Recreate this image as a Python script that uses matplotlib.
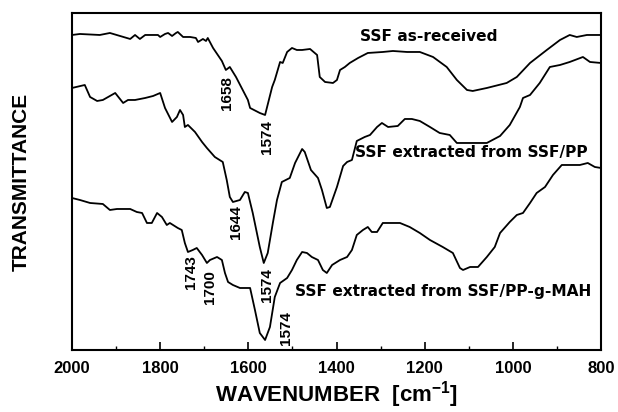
import numpy as np
import matplotlib
matplotlib.use("Agg")
import matplotlib.pyplot as plt
from matplotlib.ticker import MultipleLocator

# FTIR spectra, transmittance in arbitrary units (offset curves)
wn_received = [2000, 1982, 1937, 1914, 1891, 1868, 1857, 1846, 1834, 1805, 1800, 1789, 1782, 1773,
               1764, 1760, 1748, 1732, 1719, 1714, 1703, 1696, 1692, 1680, 1660, 1651, 1642, 1628,
               1601, 1596, 1574, 1562, 1546, 1540, 1528, 1522, 1512, 1501, 1490, 1478, 1460, 1444,
               1438, 1426, 1408, 1399, 1392, 1381, 1370, 1351, 1329, 1295, 1272, 1240, 1211, 1181,
               1150, 1127, 1104, 1091, 1059, 1014, 991, 961, 923, 893, 871, 855, 832, 800]
t_received = [315, 316, 315, 317, 314, 311, 315, 311, 315, 315, 313, 316, 317, 314,
              317, 318, 313, 313, 312, 308, 311, 309, 312, 302, 289, 280, 283, 273,
              250, 242, 237, 235, 263, 270, 288, 287, 298, 302, 300, 300, 301, 295,
              273, 268, 267, 270, 280, 283, 287, 292, 297, 298, 299, 298, 298, 293,
              283, 270, 260, 259, 262, 267, 273, 287, 300, 310, 315, 313, 315, 315]

wn_pp = [2000, 1971, 1959, 1943, 1930, 1902, 1884, 1873, 1857, 1834, 1816, 1800, 1789, 1773,
         1762, 1755, 1748, 1744, 1737, 1721, 1705, 1694, 1676, 1658, 1649, 1642, 1635, 1619,
         1608, 1601, 1590, 1574, 1565, 1556, 1544, 1535, 1524, 1506, 1494, 1478, 1472, 1458,
         1442, 1433, 1422, 1415, 1399, 1385, 1376, 1365, 1354, 1336, 1324, 1308, 1297, 1283,
         1261, 1245, 1229, 1211, 1188, 1166, 1143, 1127, 1098, 1059, 1029, 1007, 984, 977,
         961, 939, 916, 893, 871, 841, 825, 800]
t_pp = [262, 265, 253, 249, 250, 257, 247, 250, 250, 252, 254, 257, 242, 228,
        233, 240, 235, 223, 225, 218, 208, 202, 193, 188, 170, 153, 148, 150,
        158, 157, 137, 103, 87, 97, 128, 150, 168, 172, 187, 201, 198, 180,
        172, 160, 142, 143, 163, 184, 188, 190, 209, 213, 215, 223, 227, 223,
        224, 231, 231, 229, 223, 217, 215, 207, 207, 207, 214, 225, 243, 252,
        255, 267, 283, 285, 288, 293, 288, 287]

wn_mah = [2000, 1982, 1959, 1930, 1914, 1898, 1868, 1853, 1841, 1830, 1819, 1807, 1796, 1785,
          1778, 1760, 1751, 1744, 1737, 1726, 1717, 1705, 1694, 1687, 1671, 1660, 1653, 1646,
          1635, 1619, 1596, 1585, 1574, 1562, 1551, 1540, 1528, 1512, 1501, 1490, 1478, 1467,
          1456, 1442, 1431, 1422, 1410, 1392, 1376, 1365, 1354, 1340, 1329, 1320, 1308, 1295,
          1256, 1234, 1211, 1188, 1159, 1136, 1120, 1113, 1097, 1079, 1059, 1041, 1029, 1007,
          991, 977, 961, 946, 927, 909, 889, 871, 848, 830, 814, 800]
t_mah = [152, 150, 147, 146, 140, 141, 141, 138, 137, 127, 127, 137, 133, 125,
         127, 122, 120, 107, 98, 100, 102, 95, 87, 90, 93, 90, 77, 68,
         65, 62, 62, 40, 17, 10, 23, 53, 67, 72, 80, 90, 98, 97,
         93, 90, 80, 77, 85, 90, 93, 100, 115, 120, 123, 118, 118, 127,
         127, 123, 117, 110, 103, 97, 82, 80, 83, 83, 93, 103, 117, 128,
         135, 137, 147, 157, 163, 175, 185, 185, 185, 187, 183, 182]

curve_labels = ["SSF as-received", "SSF extracted from SSF/PP", "SSF extracted from SSF/PP-g-MAH"]
label_pos = [(1347, 313), (1358, 197), (1494, 58)]

peak_labels = ["1658", "1574", "1644", "1743", "1700", "1574", "1574"]
peak_pos = [(1648, 257), (1558, 213), (1627, 128), (1730, 78), (1687, 63), (1558, 65), (1515, 22)]

plt.rcParams['mathtext.fontset'] = 'custom'
plt.rcParams['mathtext.bf'] = 'Liberation Sans:bold'
plt.rcParams['mathtext.rm'] = 'Liberation Sans:bold'

fig = plt.figure(figsize=(6.18, 4.12), dpi=100)
ax = fig.add_axes([0.1165, 0.1505, 0.856, 0.818])

for wn, t in [(wn_received, t_received), (wn_pp, t_pp), (wn_mah, t_mah)]:
    ax.plot(wn, t, color='black', lw=1.3, solid_joinstyle='round')

for txt, (x, y) in zip(curve_labels, label_pos):
    ax.text(x, y, txt, fontsize=11.1, fontweight='bold', family='DejaVu Sans',
            ha='left', va='center')

for txt, (x, y) in zip(peak_labels, peak_pos):
    ax.text(x, y, txt, fontsize=11, fontweight='bold', family='Liberation Sans',
            rotation=90, ha='center', va='center')

ax.set_xlim(2000, 800)
ax.set_ylim(0, 337)
ax.xaxis.set_major_locator(MultipleLocator(200))
ax.xaxis.set_minor_locator(MultipleLocator(100))
ax.tick_params(axis='x', which='major', direction='in', length=6, width=1.2, pad=8)
ax.tick_params(axis='x', which='minor', direction='in', length=3, width=1)
ax.set_yticks([])
for lbl in ax.get_xticklabels():
    lbl.set_fontfamily('Liberation Sans')
    lbl.set_fontweight('bold')
    lbl.set_fontsize(12)
for s in ax.spines.values():
    s.set_linewidth(1.5)

ax.set_xlabel(r'WAVENUMBER  [cm$^{\mathbf{-1}}$]', fontsize=16, fontweight='bold',
              family='Liberation Sans', labelpad=2)
ax.set_ylabel('TRANSMITTANCE', fontsize=15, fontweight='bold', family='Liberation Sans',
              labelpad=30)

fig.savefig('out.png', dpi=100)
